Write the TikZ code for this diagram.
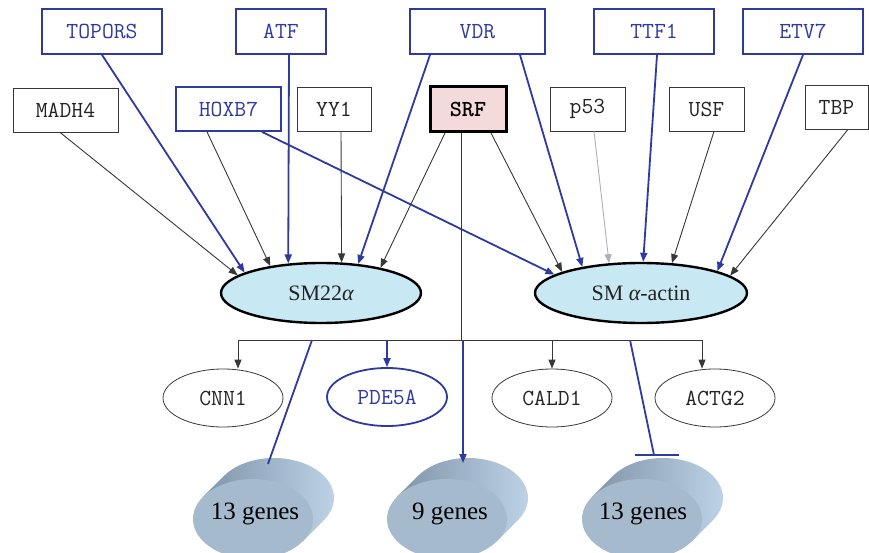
\documentclass[tikz,border=0pt]{standalone}
\usepackage{fontspec}
\setmainfont{Liberation Serif}
\usetikzlibrary{arrows.meta,shapes.geometric}

\definecolor{netblue}{RGB}{45,58,160}
\definecolor{linegray}{RGB}{55,55,55}
\definecolor{labelgray}{RGB}{35,35,35}
\definecolor{targetfill}{RGB}{200,232,243}
\definecolor{srffill}{RGB}{244,218,218}
\definecolor{paleline}{RGB}{172,176,182}
\definecolor{diskfront}{RGB}{166,186,206}
\definecolor{diskdark}{RGB}{128,148,170}
\definecolor{disklight}{RGB}{190,210,230}

\tikzset{
  factor/.style={draw=linegray, line width=0.8pt, minimum height=44pt,
    inner sep=0pt, text=labelgray, font=\ttfamily\fontsize{23}{23}\selectfont},
  bluefactor/.style={factor, draw=netblue, line width=1.8pt, text=netblue},
  target/.style={ellipse, draw=black, line width=2.4pt, fill=targetfill,
    minimum height=60pt, inner sep=0pt, text=labelgray,
    font=\fontsize{22}{22}\selectfont},
  marker/.style={ellipse, draw=linegray, line width=0.8pt, minimum width=120pt,
    minimum height=58pt, inner sep=0pt, text=labelgray,
    font=\ttfamily\fontsize{23}{23}\selectfont},
  bluemarker/.style={marker, draw=netblue, line width=1.8pt, text=netblue},
  link/.style={draw=linegray, line width=0.9pt, -{Triangle[length=9pt,width=7pt]}},
  palelink/.style={link, draw=paleline},
  plainlink/.style={draw=linegray, line width=0.9pt},
  bluelink/.style={draw=netblue, line width=1.8pt, -{Triangle[length=9pt,width=7pt]}},
  blueplain/.style={draw=netblue, line width=1.8pt},
  genecount/.style={inner sep=0pt, text=black, font=\fontsize{25}{25}\selectfont},
  genedisk/.pic={
    \shade[shading angle=120, left color=diskdark, right color=disklight]
      (21,-21) ellipse [x radius=60, y radius=40]
      (-49.9,-22.2) -- (-28.9,-43.2) -- (70.9,1.2) -- (49.9,22.2) -- cycle;
    \fill[diskfront] (0,0) ellipse [x radius=60, y radius=40];
  }
}

\begin{document}
\begin{tikzpicture}[x=1pt, y=-1pt]
\useasboundingbox (0,0) rectangle (869,553);
\clip (0,0) rectangle (869,553);

% gene groups at the bottom
\pic at (253,519) {genedisk};
\pic at (447,519) {genedisk};
\pic at (642,519) {genedisk};
\node[genecount] (groupA) at (255,514) {13 genes};
\node[genecount] (groupB) at (450,514) {9 genes};
\node[genecount] (groupC) at (643,514) {13 genes};

% regulators, upper row
\node[bluefactor, minimum width=120pt, minimum height=45pt] (topors) at (102,31.5) {TOPORS};
\node[bluefactor, minimum width=90pt, minimum height=45pt] (atf) at (281,31.5) {ATF};
\node[bluefactor, minimum width=135pt, minimum height=45pt] (vdr) at (477.5,31.5) {VDR};
\node[bluefactor, minimum width=120pt, minimum height=45pt] (ttf) at (654,31.5) {TTF1};
\node[bluefactor, minimum width=120pt, minimum height=45pt] (etv) at (803,31.5) {ETV7};

% regulators, lower row
\node[factor, minimum width=105pt] (madh) at (65.5,110) {MADH4};
\node[bluefactor, minimum width=105pt] (hoxb) at (228.5,109) {HOXB7};
\node[factor, minimum width=74pt] (yy) at (334,109) {YY1};
\node[factor, draw=black, line width=3pt, fill=srffill, text=black,
      minimum width=76pt, minimum height=45pt] (srf) at (468,109) {\bfseries SRF};
\node[factor, minimum width=75pt] (p53) at (587.5,109) {p53};
\node[factor, minimum width=75pt] (usf) at (706.5,109) {USF};
\node[factor, minimum width=63pt] (tbp) at (836.5,107) {TBP};

% the two smooth muscle markers
\node[target, minimum width=200pt] (sm22) at (321,293) {SM22{\itshape α}};
\node[target, minimum width=212pt] (actin) at (641,293) {SM {\itshape α}-actin};

% SRF targets
\node[marker] (cnn) at (223,398) {CNN1};
\node[bluemarker] (pde) at (387,397) {PDE5A};
\node[marker] (cald) at (552,398) {CALD1};
\node[marker] (actg) at (715,398) {ACTG2};

% edges into SM22alpha
\draw[link] ([xshift=-5.5pt]madh.south) -- (sm22.168);
\draw[bluelink] (topors.south) -- (sm22.165);
\draw[link] ([xshift=-21.5pt]hoxb.south) -- (sm22.152);
\draw[bluelink] ([xshift=8pt]atf.south) -- (sm22.138.8);
\draw[link] ([xshift=7pt]yy.south) -- (sm22.56);
\draw[bluelink] ([xshift=-47.5pt]vdr.south) -- (sm22.38.3);
\draw[link] ([xshift=-23pt]srf.south) -- (sm22.23.1);

% edges into SM alpha-actin
\draw[bluelink] ([xshift=33.5pt]hoxb.south) -- (actin.168.6);
\draw[link] ([xshift=23pt]srf.south) -- (actin.165.6);
\draw[bluelink] ([xshift=42.5pt]vdr.south) -- (actin.156);
\draw[palelink] ([xshift=6.5pt]p53.south) -- (actin.137.7);
\draw[bluelink] ([xshift=3pt]ttf.south) -- (actin.86.3);
\draw[link] ([xshift=7.5pt]usf.south) -- (actin.44.1);
\draw[bluelink] (etv.south) -- (actin.16.8);
\draw[link] ([xshift=11.5pt]tbp.south) -- (actin.11.2);

% SRF trunk and its branches
\coordinate (hub) at (461,340);
\coordinate (branchL) at (238,340);
\coordinate (branchR) at (702,340);
\draw[plainlink] ([xshift=-7pt]srf.south) -- (hub);
\draw[plainlink] (branchL) -- (branchR);
\draw[link] (branchL) -- (branchL |- cnn.north);
\draw[bluelink] (pde.north |- hub) -- (pde.north);
\draw[link] (cald.north |- hub) -- (cald.north);
\draw[link] (branchR) -- (branchR |- actg.north);

% links to the gene groups
\coordinate (fromA) at (312,340);
\coordinate (intoA) at (268,464);
\coordinate (fromB) at (463,340);
\coordinate (intoB) at (463,463);
\coordinate (fromC) at (630,340);
\coordinate (intoC) at (654,455);
\draw[blueplain] (fromA) -- (intoA);
\draw[bluelink] (fromB) -- (intoB);
\draw[blueplain] (fromC) -- (intoC);
\draw[blueplain] ([xshift=-19pt]intoC) -- ([xshift=25pt]intoC);
\end{tikzpicture}
\end{document}
